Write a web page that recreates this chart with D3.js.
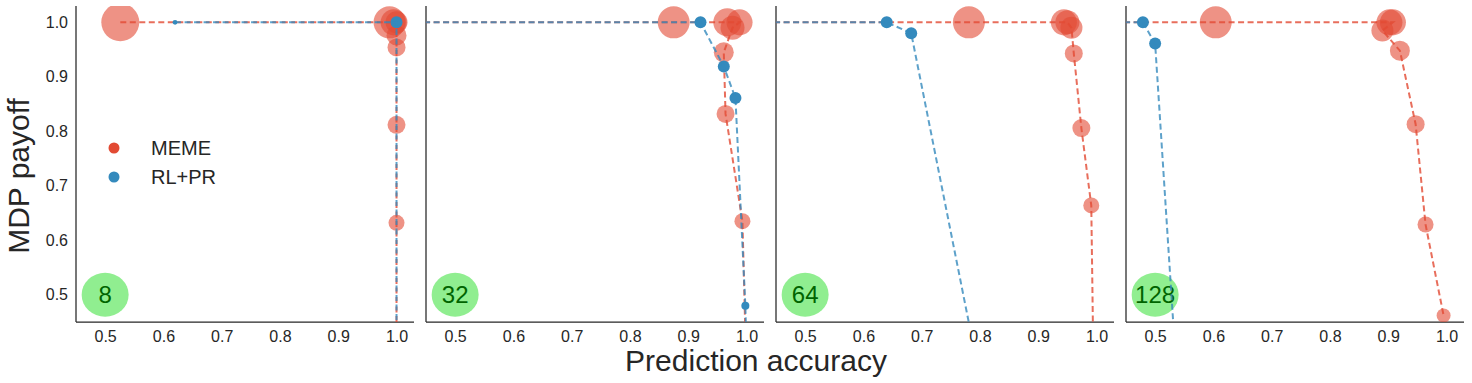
<!DOCTYPE html>
<meta charset="utf-8">
<style>
  body { margin: 0; background: white; }
  text { font-family: "Liberation Sans", Arial, sans-serif; fill: #262626; }
  .tick text { font-size: 16px; fill: #262626; }
  .axis path { stroke: #262626; stroke-width: 1.25; }
</style>
<body>
<svg id="chart" width="1472" height="383"></svg>
<script src="https://d3js.org/d3.v7.min.js"></script>
<script>
// panel labels (number of ... per run)
var panelLabels = ["8", "32", "64", "128"];

// MEME: prediction accuracy, MDP payoff, marker size (off-chart points keep the dashed line running to the edge)
var memeX = [
  [0.526, 0.988, 0.995, 1.0, 1.0, 1.0, 1.0, 1.0, 1.0],
  [0.30, 0.875, 0.967, 0.988, 0.976, 0.961, 0.964, 0.993, 1.0],
  [0.30, 0.781, 0.944, 0.950, 0.957, 0.961, 0.974, 0.991, 0.995],
  [0.30, 0.604, 0.902, 0.908, 0.890, 0.920, 0.947, 0.964, 0.995]
];
var memeY = [
  [1.0, 1.0, 1.0, 1.0, 0.976, 0.954, 0.812, 0.632, 0.35],
  [1.0, 1.0, 1.0, 1.0, 0.99, 0.945, 0.832, 0.635, 0.35],
  [1.0, 1.0, 1.0, 1.0, 0.99, 0.943, 0.806, 0.664, 0.35],
  [1.0, 1.0, 1.0, 1.0, 0.985, 0.948, 0.813, 0.629, 0.462]
];
var memeSize = [
  [360, 256, 170, 121, 100, 81, 81, 64, 49],
  [0, 256, 196, 170, 144, 100, 81, 64, 49],
  [0, 256, 170, 144, 121, 81, 81, 64, 49],
  [0, 256, 170, 170, 121, 100, 81, 64, 49]
];

// RL+PR
var rlX = [
  [0.62, 1.0, 1.0],
  [0.30, 0.921, 0.961, 0.981, 0.998, 1.0],
  [0.30, 0.640, 0.682, 0.79],
  [0.30, 0.479, 0.500, 0.534]
];
var rlY = [
  [1.0, 1.0, 0.35],
  [1.0, 1.0, 0.919, 0.861, 0.48, 0.40],
  [1.0, 1.0, 0.98, 0.40],
  [1.0, 1.0, 0.961, 0.40]
];
var rlSize = [
  [6, 36, 36],
  [0, 36, 36, 36, 16, 16],
  [0, 36, 36, 36],
  [0, 36, 36, 36]
];

var xTicks = [0.5, 0.6, 0.7, 0.8, 0.9, 1.0];
var yTicks = [0.5, 0.6, 0.7, 0.8, 0.9, 1.0];
var seriesNames = ["MEME", "RL+PR"];

var red = "#E24A33", blue = "#348ABD";

var svg = d3.select("#chart");
var top0 = 6, plotH = 316, plotW = 338;
var lefts = [76, 426, 776, 1126];

var x = d3.scaleLinear().domain([0.45, 1.03]).range([0, plotW]);
var y = d3.scaleLinear().domain([0.45, 1.03]).range([plotH, 0]);
var r = d3.scaleSqrt().domain([0, 400]).range([0, 20]);

var line = d3.line().x(d => x(d[0])).y(d => y(d[1]));

svg.append("defs").append("clipPath").attr("id", "clip")
  .append("rect").attr("width", plotW).attr("height", plotH);

panelLabels.forEach(function (lab, i) {
  var g = svg.append("g").attr("transform", "translate(" + lefts[i] + "," + top0 + ")");

  g.append("g").attr("class", "axis")
    .attr("transform", "translate(0," + plotH + ")")
    .call(d3.axisBottom(x).tickValues(xTicks).tickFormat(d3.format(".1f")).tickSize(0).tickPadding(9));
  if (i == 0) {
    g.append("g").attr("class", "axis")
      .call(d3.axisLeft(y).tickValues(yTicks).tickFormat(d3.format(".1f")).tickSize(0).tickPadding(8));
  } else {
    g.append("line").attr("x1", 0).attr("x2", 0).attr("y1", 0).attr("y2", plotH)
      .attr("stroke", "#262626").attr("stroke-width", 1.25);
  }
  g.selectAll(".axis .domain").attr("d", function () {
    return d3.select(this.parentNode).attr("transform") ? "M0,0H" + plotW : "M0,0V" + plotH;
  });

  var p = g.append("g").attr("clip-path", "url(#clip)");

  // panel label bubble
  p.append("ellipse").attr("cx", x(0.5)).attr("cy", y(0.5))
    .attr("rx", 23.5).attr("ry", 22).attr("fill", "lightgreen");
  p.append("text").attr("x", x(0.5)).attr("y", y(0.5)).attr("dy", "0.36em")
    .attr("text-anchor", "middle").style("font-size", "24px").style("fill", "#006400")
    .text(lab);

  var meme = d3.zip(memeX[i], memeY[i], memeSize[i]);
  var rl = d3.zip(rlX[i], rlY[i], rlSize[i]);

  p.selectAll(".meme").data(meme).enter().append("circle")
    .attr("cx", d => x(d[0])).attr("cy", d => y(d[1])).attr("r", d => r(d[2]))
    .attr("fill", red).attr("fill-opacity", 0.6);

  p.append("path").datum(meme).attr("d", line)
    .attr("fill", "none").attr("stroke", red).attr("stroke-opacity", 0.8)
    .attr("stroke-width", 2).attr("stroke-dasharray", "6,3.5");

  p.selectAll(".rl").data(rl).enter().append("circle")
    .attr("cx", d => x(d[0])).attr("cy", d => y(d[1])).attr("r", d => r(d[2]))
    .attr("fill", blue);

  p.append("path").datum(rl).attr("d", line)
    .attr("fill", "none").attr("stroke", blue).attr("stroke-opacity", 0.8)
    .attr("stroke-width", 2).attr("stroke-dasharray", "6,3.5");

  if (i == 0) {
    var leg = g.append("g");
    [red, blue].forEach(function (c, k) {
      leg.append("circle").attr("cx", 38).attr("cy", 142 + k * 29).attr("r", 5.5).attr("fill", c);
      leg.append("text").attr("x", 75).attr("y", 142 + k * 29).attr("dy", "0.36em")
        .style("font-size", "20px").text(seriesNames[k]);
    });
  }
});

svg.append("text").attr("x", 756).attr("y", 371).attr("text-anchor", "middle")
  .style("font-size", "30px").text("Prediction accuracy");
svg.append("text").attr("transform", "translate(29,176) rotate(-90)").attr("text-anchor", "middle")
  .style("font-size", "30px").text("MDP payoff");
</script>
</body>
